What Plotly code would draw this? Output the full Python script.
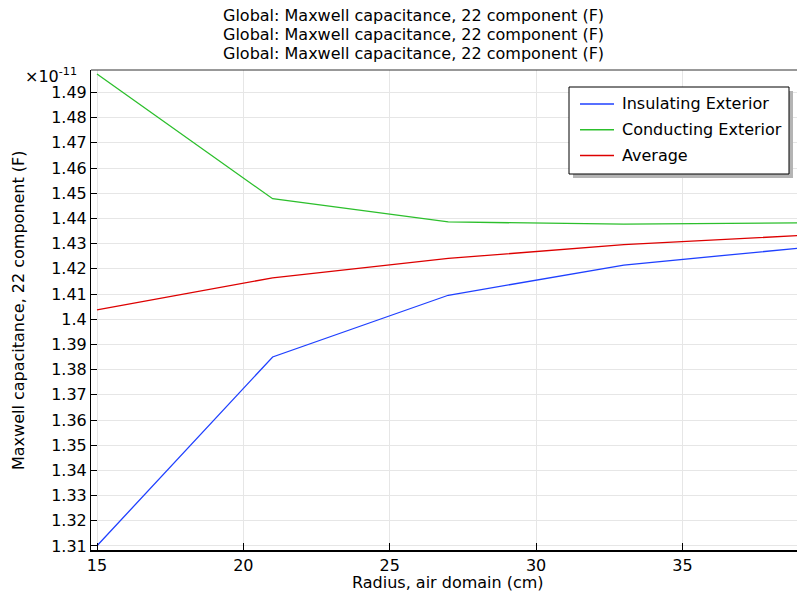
import plotly.graph_objects as go

radius = [15, 21, 27, 33, 39]
insulating = [1.3101, 1.3850, 1.4095, 1.4215, 1.4282]
conducting = [1.4973, 1.4478, 1.4386, 1.4377, 1.4382]
average = [1.4037, 1.4164, 1.4241, 1.4296, 1.4332]

names = ["Insulating Exterior", "Conducting Exterior", "Average"]
colors = ["#1f40ff", "#2cbf2c", "#dd0000"]

y_ticks = [1.31, 1.32, 1.33, 1.34, 1.35, 1.36, 1.37, 1.38, 1.39, 1.40,
           1.41, 1.42, 1.43, 1.44, 1.45, 1.46, 1.47, 1.48, 1.49]
y_tick_text = ["1.31", "1.32", "1.33", "1.34", "1.35", "1.36", "1.37", "1.38", "1.39", "1.4",
               "1.41", "1.42", "1.43", "1.44", "1.45", "1.46", "1.47", "1.48", "1.49"]
x_ticks = [15, 20, 25, 30, 35]

title_line = "Global: Maxwell capacitance, 22 component (F)"

FONT = "DejaVu Sans"
FS = 16
W, H = 797, 593
ML, MR, MT, MB = 91, 0, 70, 43
PW, PH = W - ML - MR, H - MT - MB

fig = go.Figure()
for vals, nm, col in zip([insulating, conducting, average], names, colors):
    fig.add_trace(go.Scatter(x=radius, y=vals, mode="lines", name=nm,
                             line=dict(color=col, width=1.3), showlegend=False))

def px_x(p):
    return (p - ML) / PW

def px_y(p):
    return (H - MB - p) / PH

# hand-drawn legend box with shadow
lx0, ly0, lx1, ly1 = 569, 87, 789, 174
fig.add_shape(type="rect", xref="paper", yref="paper",
              x0=px_x(lx0 + 4), x1=px_x(lx1 + 4), y0=px_y(ly1 + 4), y1=px_y(ly0 + 4),
              fillcolor="#b4b4b4", line=dict(width=0), layer="above")
fig.add_shape(type="rect", xref="paper", yref="paper",
              x0=px_x(lx0), x1=px_x(lx1), y0=px_y(ly1), y1=px_y(ly0),
              fillcolor="white", line=dict(color="black", width=1), layer="above")
for k, (nm, col) in enumerate(zip(names, colors)):
    yk = 104 + 25.7 * k
    fig.add_shape(type="line", xref="paper", yref="paper",
                  x0=px_x(580), x1=px_x(614), y0=px_y(yk), y1=px_y(yk),
                  line=dict(color=col, width=1.5), layer="above")
    fig.add_annotation(text=nm, xref="paper", yref="paper", x=px_x(620), y=px_y(yk),
                       xanchor="left", yanchor="middle", showarrow=False,
                       font=dict(family=FONT, size=FS, color="black"))

# top frame line
fig.add_shape(type="line", xref="paper", yref="paper", x0=0, x1=1, y0=1, y1=1,
              line=dict(color="#333333", width=1))

for ypx in [15, 34.5, 54]:
    fig.add_annotation(text=title_line, xref="paper", yref="paper",
                       x=px_x(413), y=px_y(ypx), xanchor="center", yanchor="middle",
                       showarrow=False, font=dict(family=FONT, size=FS, color="black"))

fig.add_annotation(text="Maxwell capacitance, 22 component (F)", textangle=-90,
                   xref="paper", yref="paper", x=px_x(18), y=px_y(310),
                   xanchor="center", yanchor="middle", showarrow=False,
                   font=dict(family=FONT, size=FS, color="black"))
fig.add_annotation(text="Radius, air domain (cm)", xref="paper", yref="paper",
                   x=px_x(448), y=px_y(582), xanchor="center", yanchor="middle",
                   showarrow=False, font=dict(family=FONT, size=FS, color="black"))
fig.add_annotation(text="×10<sup>-11</sup>", xref="paper", yref="paper",
                   x=px_x(23), y=px_y(76), xanchor="left", yanchor="middle",
                   showarrow=False, font=dict(family=FONT, size=FS, color="black"))

fig.update_layout(
    width=W, height=H,
    margin=dict(l=ML, r=MR, t=MT, b=MB, pad=0),
    paper_bgcolor="white", plot_bgcolor="white",
    font=dict(family=FONT, size=FS, color="black"),
    showlegend=False,
    xaxis=dict(range=[14.795, 38.915], tickvals=x_ticks, ticks="inside", ticklen=7,
               tickcolor="black", showline=True, linecolor="black", linewidth=2,
               showgrid=True, gridcolor="#e6e6e6", gridwidth=1, zeroline=False,
               tickfont=dict(family=FONT, size=FS, color="black")),
    yaxis=dict(range=[1.30841, 1.49889], tickvals=y_ticks, ticktext=y_tick_text,
               ticks="inside", ticklen=6, tickcolor="black", showline=True,
               linecolor="black", linewidth=1, showgrid=True, gridcolor="#e6e6e6",
               gridwidth=1, zeroline=False,
               tickfont=dict(family=FONT, size=FS, color="black")),
)

fig.write_html("out.html")
